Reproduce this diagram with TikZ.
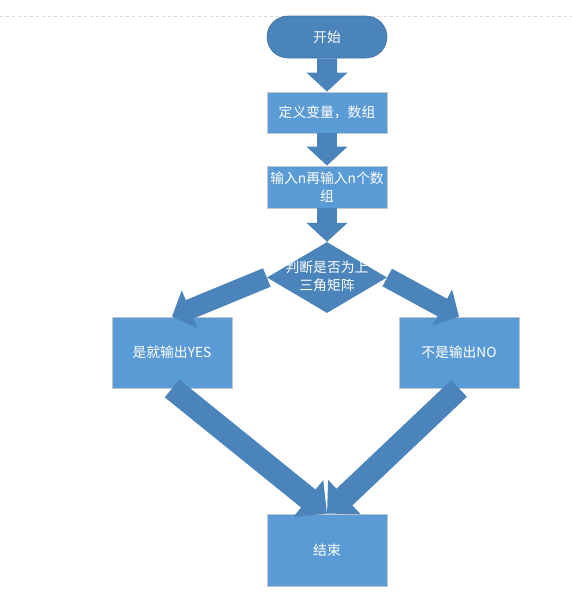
\documentclass[tikz,border=0pt]{standalone}
\usepackage{fontspec}
\usepackage{xcolor}
\usepackage{tikz}
\usetikzlibrary{arrows.meta,shapes.geometric,shapes.misc}
\setmainfont{Noto Sans CJK SC}

\definecolor{arrowblue}{HTML}{4A84BA}
\definecolor{boxblue}{HTML}{5B9BD5}
\definecolor{boxline}{HTML}{BFC7D0}
\definecolor{pillline}{HTML}{41719C}

\tikzset{
  txt/.style={text=white, font=\fontsize{13.8}{18}\selectfont, align=center},
  procbox/.style={draw=boxline, line width=0.8pt, fill=boxblue, rectangle,
    minimum width=120pt, inner sep=0pt, txt},
  startpill/.style={draw=pillline, line width=0.6pt, fill=arrowblue,
    rounded rectangle, minimum width=120pt, minimum height=42pt, inner sep=0pt, txt},
  decbox/.style={fill=arrowblue, diamond, minimum width=120pt, minimum height=71pt,
    inner sep=0pt},
  blockarrow/.style={arrowblue, line width=20pt,
    -{Triangle[length=19pt, width=40pt]}},
  bigarrow/.style={arrowblue, line width=23pt,
    -{Triangle[length=24pt, width=46pt]}}
}

\begin{document}
\begin{tikzpicture}[x=1pt, y=-1pt]
    \useasboundingbox (0,0) rectangle (572,611);

    % page edge (dashed)
    \draw[gray!30, dashed, line width=0.6pt] (0,16) -- (572,16);

    % start
    \node[startpill] (start) at (327,37) {开始};

    % steps
    \node[procbox, minimum height=41pt] (vars) at (327,112.5) {定义变量，数组};
    \node[procbox, minimum height=42pt] (input) at (327,187) {输入n再输入n个数\\组};

    % decision
    \node[decbox] (cond) at (327,277.5) {};
    \node[txt] (condtxt) at (327,276) {判断是否为上\\三角矩阵};

    % outputs
    \node[procbox, minimum height=71pt] (yes) at (172,352.5) {是就输出YES};
    \node[procbox, minimum height=71pt] (no) at (459,352.5) {不是输出NO};

    % end
    \node[procbox, minimum height=72pt] (stop) at (327,550) {结束};

    % straight flow
    \draw[blockarrow] (start) -- (vars);
    \draw[blockarrow] (vars) -- (input);
    \draw[blockarrow] (input) -- (cond);

    % branches
    \draw[blockarrow] (cond.west) -- (yes.north);
    \draw[blockarrow] (cond.east) -- (no.north);

    % to the end
    \draw[bigarrow] (yes.south) -- (stop.north);
    \draw[bigarrow] (no.south) -- (stop.north);
\end{tikzpicture}
\end{document}
